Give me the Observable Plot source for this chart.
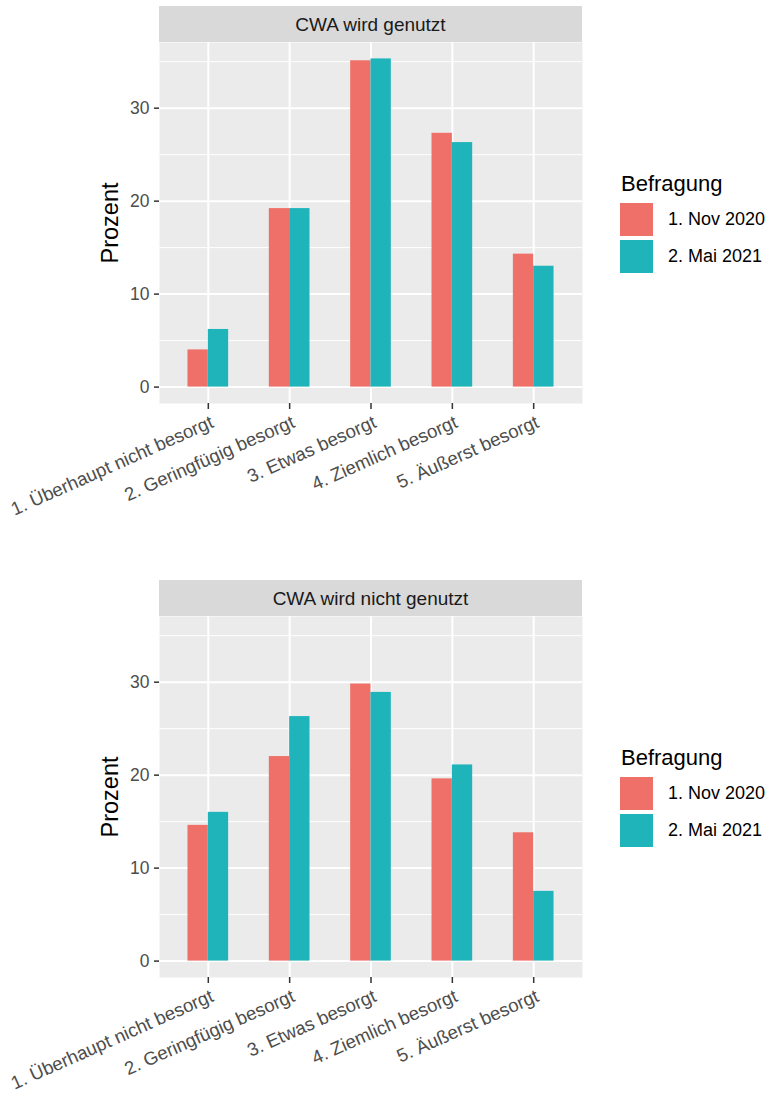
<!DOCTYPE html>
<html><head><meta charset="utf-8">
<script src="https://cdn.jsdelivr.net/npm/d3@7"></script>
<script src="https://cdn.jsdelivr.net/npm/@observablehq/plot@0.6"></script>
<style>
body{margin:0;background:#fff;font-family:"Liberation Sans",Arial,Helvetica,sans-serif;}
#root{position:relative;width:773px;height:1099px;overflow:hidden;background:#fff;}
#root svg{position:absolute;left:0;}
.strip{position:absolute;left:159px;width:423px;height:36px;line-height:37px;background:#D9D9D9;color:#1A1A1A;font-size:19px;text-align:center;}
.ltitle{position:absolute;left:621px;font-size:22px;line-height:22px;color:#000;}
.lkey{position:absolute;left:620px;width:33px;height:33px;}
.llab{position:absolute;left:668px;font-size:18px;line-height:33px;height:33px;color:#000;}
</style></head><body><div id="root"></div>
<script>
const categories = ["1. Überhaupt nicht besorgt","2. Geringfügig besorgt","3. Etwas besorgt","4. Ziemlich besorgt","5. Äußerst besorgt"];
const surveys = ["1. Nov 2020","2. Mai 2021"];
const panelTitles = ["CWA wird genutzt","CWA wird nicht genutzt"];
const genutztNov2020 = [4.0, 19.2, 35.1, 27.3, 14.3];
const genutztMai2021 = [6.2, 19.2, 35.3, 26.3, 13.0];
const nichtGenutztNov2020 = [14.6, 22.0, 29.8, 19.6, 13.8];
const nichtGenutztMai2021 = [16.0, 26.3, 28.9, 21.1, 7.5];
const yTicks = [0, 10, 20, 30];
const yMinorTicks = [5, 15, 25, 35];
const colors = ["#EE7068", "#1FB4BA"];
const legendTitle = "Befragung";
const yLabel = "Prozent";

const root = document.getElementById("root");
const allValues = [...genutztNov2020, ...genutztMai2021, ...nichtGenutztNov2020, ...nichtGenutztMai2021];
const vmax = d3.max(allValues);
const yDomain = [-0.05 * vmax, 1.05 * vmax];

const W = 773, marginLeft = 159, marginRight = 191, marginTop = 42;

function makePanel(title, nov, mai, top, height, marginBottom) {
  const rows = categories.flatMap((c, i) => [
    {cat: c, survey: surveys[0], value: nov[i]},
    {cat: c, survey: surveys[1], value: mai[i]}
  ]);
  const step = (W - marginLeft - marginRight) / (categories.length + 0.2);
  const half = step * 0.25;
  const svg = Plot.plot({
    width: W, height, marginLeft, marginRight, marginTop, marginBottom,
    style: {fontFamily: '"Liberation Sans", Arial, sans-serif', fontSize: "17px", background: "transparent", overflow: "visible"},
    x: {domain: categories, paddingInner: 0.5, paddingOuter: 0.35, round: false, axis: null},
    y: {domain: yDomain, axis: null},
    color: {domain: surveys, range: colors},
    marks: [
      Plot.frame({fill: "#EBEBEB", stroke: null}),
      Plot.gridY(yMinorTicks, {stroke: "white", strokeOpacity: 1, strokeWidth: 1}),
      Plot.gridY(yTicks, {stroke: "white", strokeOpacity: 1, strokeWidth: 2}),
      Plot.gridX(categories, {stroke: "white", strokeOpacity: 1, strokeWidth: 2}),
      Plot.barY(rows.filter(d => d.survey === surveys[0]), {x: "cat", y: "value", fill: "survey", insetRight: half}),
      Plot.barY(rows.filter(d => d.survey === surveys[1]), {x: "cat", y: "value", fill: "survey", insetLeft: half}),
      Plot.axisY(yTicks, {tickSize: 5, tickPadding: 5, stroke: "#333333", strokeWidth: 1.5, fill: "#4D4D4D", fontSize: 17.5, label: null}),
      Plot.axisX(categories, {tickSize: 6, stroke: "#333333", strokeWidth: 1.5, tickFormat: () => "", label: null}),
      Plot.text(categories, {x: d => d, text: d => d, frameAnchor: "bottom", dy: 11, dx: 1, rotate: -24, textAnchor: "end", lineAnchor: "top", fill: "#4D4D4D", fontSize: 18.6}),
      Plot.text([yLabel], {text: d => d, frameAnchor: "left", dx: -49, rotate: -90, textAnchor: "middle", fill: "#000", fontSize: 23.5})
    ]
  });
  svg.style.top = top + "px";
  root.appendChild(svg);

  const strip = document.createElement("div");
  strip.className = "strip";
  strip.style.top = (top + 6) + "px";
  strip.textContent = title;
  root.appendChild(strip);

  const lt = document.createElement("div");
  lt.className = "ltitle";
  lt.style.top = (top + 173) + "px";
  lt.textContent = legendTitle;
  root.appendChild(lt);
  surveys.forEach((s, i) => {
    const k = document.createElement("div");
    k.className = "lkey";
    k.style.top = (top + 203 + i * 36.5) + "px";
    k.style.background = colors[i];
    root.appendChild(k);
    const l = document.createElement("div");
    l.className = "llab";
    l.style.top = (top + 203 + i * 36.5) + "px";
    l.textContent = s;
    root.appendChild(l);
  });
}

makePanel(panelTitles[0], genutztNov2020, genutztMai2021, 0, 573, 170);
makePanel(panelTitles[1], nichtGenutztNov2020, nichtGenutztMai2021, 574, 525, 122);
</script></body></html>
